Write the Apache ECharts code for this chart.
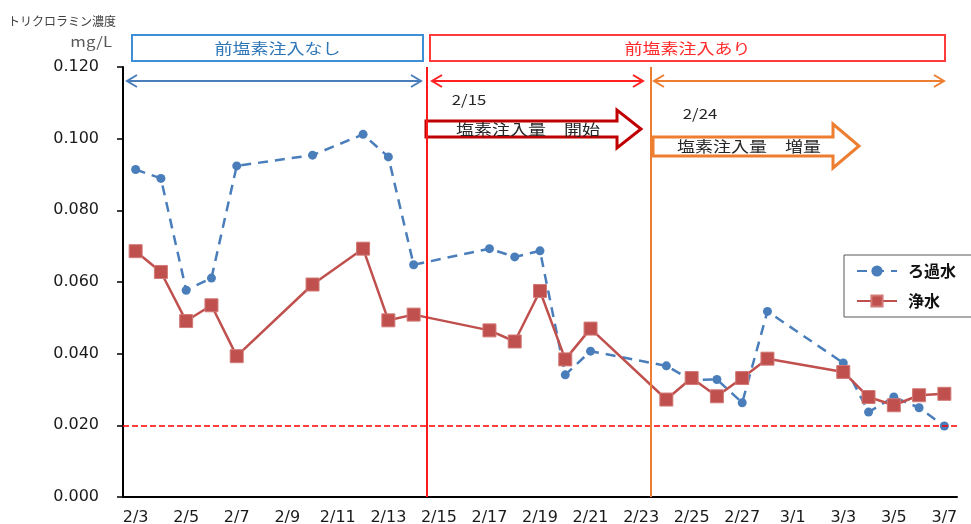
<!DOCTYPE html>
<html>
<head>
<meta charset="utf-8">
<script src="https://cdn.jsdelivr.net/npm/echarts@6/dist/echarts.min.js"></script>
<style>
html, body { margin: 0; padding: 0; background: #fff; }
#main { width: 971px; height: 524px; }
</style>
</head>
<body>
<div id="main"></div>
<script>
// 日付（カテゴリ）
var dates = ['2/3','2/4','2/5','2/6','2/7','2/8','2/9','2/10','2/11','2/12','2/13','2/14',
  '2/15','2/16','2/17','2/18','2/19','2/20','2/21','2/22','2/23','2/24','2/25','2/26',
  '2/27','2/28','3/1','3/2','3/3','3/4','3/5','3/6','3/7'];
// ろ過水
var filtered = [0.0914, 0.0889, 0.0577, 0.0611, 0.0924, null, null, 0.0954, null, 0.1012, 0.0949, 0.0648,
  null, null, 0.0693, 0.0670, 0.0687, 0.0341, 0.0407, null, null, 0.0366, 0.0326, 0.0328,
  0.0263, 0.0518, null, null, 0.0374, 0.0237, 0.0279, 0.0249, 0.0198];
// 浄水
var purified = [0.0686, 0.0628, 0.0491, 0.0535, 0.0393, null, null, 0.0593, null, 0.0693, 0.0493, 0.0509,
  null, null, 0.0465, 0.0434, 0.0575, 0.0384, 0.0470, null, null, 0.0272, 0.0332, 0.0281,
  0.0332, 0.0386, null, null, 0.0349, 0.0279, 0.0256, 0.0284, 0.0288];
var limitValue = 0.02;
// 縦線（日数、2/3 の左端=0）
var startLine = 12;     // 2/15 塩素注入開始
var increaseLine = 20.9; // 2/24 増量

var chart = echarts.init(document.getElementById('main'));

function dblArrow(x1, x2, y, color) {
  var st = { stroke: color, lineWidth: 2, fill: null };
  return [
    { type: 'line', shape: { x1: x1, y1: y, x2: x2, y2: y }, style: st },
    { type: 'polyline', shape: { points: [[x1 + 10, y - 6], [x1, y], [x1 + 10, y + 6]] }, style: st },
    { type: 'polyline', shape: { points: [[x2 - 10, y - 6], [x2, y], [x2 - 10, y + 6]] }, style: st }
  ];
}

function blockArrow(x0, xh, xt, bt, bb, ht, hb, color) {
  return {
    type: 'polygon',
    shape: { points: [[x0, bt], [xh, bt], [xh, ht], [xt, (ht + hb) / 2], [xh, hb], [xh, bb], [x0, bb]] },
    style: { stroke: color, lineWidth: 3, fill: '#fff' }
  };
}

function label(text, x, y, size, color, align, sx) {
  return {
    type: 'text', x: x, y: y, scaleX: sx || 1,
    style: {
      text: text, fontSize: size, fill: color, textAlign: align || 'center', textVerticalAlign: 'middle',
      fontFamily: '"Noto Sans CJK JP", "DejaVu Sans", sans-serif'
    }
  };
}

var graphics = [];
graphics.push(label('トリクロラミン濃度', 8, 21, 12, '#404040', 'left'));
graphics.push(label('mg/L', 112, 42, 14, '#595959', 'right', 1.2));
graphics.push({ type: 'rect', shape: { x: 132, y: 35, width: 291, height: 26 }, style: { stroke: '#3d8fd8', lineWidth: 2, fill: null } });
graphics.push({ type: 'rect', shape: { x: 430, y: 35, width: 515, height: 26 }, style: { stroke: '#ff3b3b', lineWidth: 2, fill: null } });
graphics.push(label('前塩素注入なし', 277.5, 48, 15, '#2e75b6', 'center', 1.2));
graphics.push(label('前塩素注入あり', 687.5, 48, 15, '#ff2a2a', 'center', 1.2));
graphics = graphics.concat(dblArrow(127, 421, 81, '#4a7ebb'));
graphics = graphics.concat(dblArrow(432, 643, 81, '#ff2020'));
graphics = graphics.concat(dblArrow(654, 944, 81, '#ed7d31'));
graphics.push(label('2/15', 469, 100, 14, '#262626', 'center', 1.2));
graphics.push(label('2/24', 700, 114, 14, '#262626', 'center', 1.2));
graphics.push(blockArrow(426, 617, 641, 121, 137, 110, 148, '#c00000'));
graphics.push(blockArrow(653, 833, 859, 137, 156, 124, 168, '#ed7d31'));
graphics.push(label('塩素注入量　開始', 528, 129, 15, '#262626', 'center', 1.2));
graphics.push(label('塩素注入量　増量', 749, 146, 15, '#262626', 'center', 1.2));

var option = {
  animation: false,
  textStyle: { fontFamily: '"DejaVu Sans", sans-serif' },
  grid: { left: 123, right: 14, top: 67, bottom: 27, outerBoundsMode: 'none' },
  legend: {
    orient: 'vertical', left: 844, top: 255,
    itemWidth: 40, itemHeight: 14, itemGap: 14,
    padding: [8, 40, 8, 12],
    borderColor: '#595959', borderWidth: 1,
    textStyle: { fontSize: 16, fontWeight: 'bold', color: '#111', padding: [0, 0, 0, 6],
      fontFamily: '"Noto Sans CJK JP", sans-serif' },
    data: ['ろ過水', '浄水']
  },
  xAxis: [{
    type: 'category', data: dates, boundaryGap: true,
    axisLine: { lineStyle: { color: '#000', width: 2 } },
    axisTick: { interval: 1, length: 5, lineStyle: { color: '#000', width: 1.5 } },
    axisLabel: { interval: 1, fontSize: 16, color: '#1a1a1a', margin: 13 }
  }, {
    type: 'value', min: 0, max: 33, show: false
  }],
  yAxis: {
    type: 'value', min: 0, max: 0.12, interval: 0.02,
    splitLine: { show: false },
    axisLine: { show: true, lineStyle: { color: '#000', width: 2 } },
    axisTick: { show: true, length: 6, lineStyle: { color: '#000', width: 1.5 } },
    axisLabel: { fontSize: 16, color: '#1a1a1a', margin: 24, formatter: function (v) { return v.toFixed(3); } }
  },
  series: [{
    name: 'ろ過水', type: 'line', data: filtered, connectNulls: true,
    symbol: 'circle', symbolSize: 9,
    itemStyle: { color: '#4a7ebb' },
    lineStyle: { color: '#4a7ebb', width: 2.5, type: [10, 7] },
    z: 3
  }, {
    name: '浄水', type: 'line', data: purified, connectNulls: true,
    symbol: 'rect', symbolSize: 13,
    itemStyle: { color: '#c0504d', borderColor: '#d27a77', borderWidth: 1 },
    lineStyle: { color: '#c0504d', width: 2.5 },
    z: 4
  }, {
    name: 'lines', type: 'line', xAxisIndex: 1, data: [], silent: true,
    color: '#ff0000',
    markLine: {
      silent: true, symbol: 'none', label: { show: false },
      lineStyle: { color: '#ff0000', width: 1.5, type: 'dashed' },
      data: [
        { yAxis: limitValue, lineStyle: { color: '#ff0000', width: 1.5, type: 'dashed', opacity: 1 } },
        { xAxis: startLine, lineStyle: { color: '#ff1a1a', width: 2, type: 'solid' } },
        { xAxis: increaseLine, lineStyle: { color: '#ed7d31', width: 2, type: 'solid' } }
      ]
    },
    z: 5
  }],
  graphic: graphics
};
chart.setOption(option);
</script>
</body>
</html>
